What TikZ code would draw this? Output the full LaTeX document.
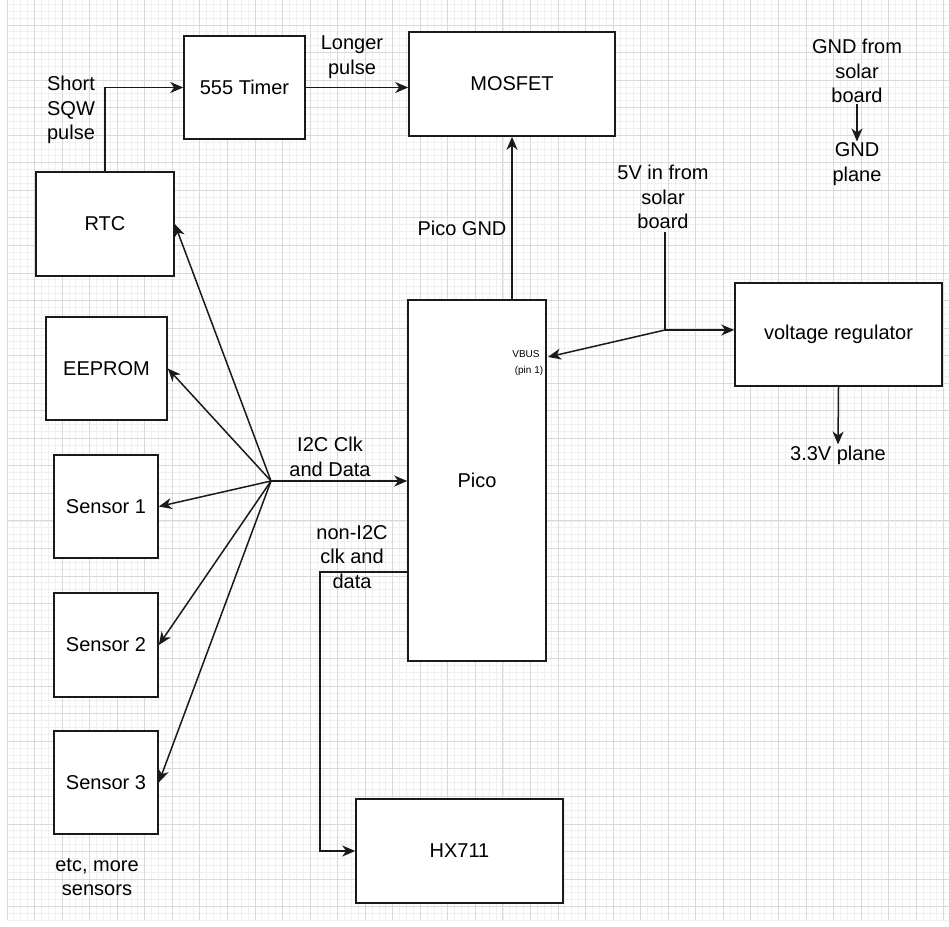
\documentclass[tikz,border=0pt]{standalone}
\usepackage{fontspec}
\setmainfont{Liberation Sans}
\usetikzlibrary{arrows.meta,calc}
\definecolor{ln}{HTML}{1A1A1A}
\begin{document}
\begin{tikzpicture}[x=1pt,y=-1pt,
 box/.style={draw=ln,line width=1.6pt,fill=white,inner sep=0pt,font=\fontsize{20}{24}\selectfont},
 lbl/.style={inner sep=1pt,align=center,font=\fontsize{20}{24.5}\selectfont},
 small/.style={inner sep=0pt,font=\fontsize{10}{12}\selectfont},
 arr/.style={draw=ln,line width=1.5pt,-{Stealth[length=13pt,width=11pt,inset=4pt]}},
 wire/.style={draw=ln,line width=1.5pt},
 minorg/.style={draw=gray!12,line width=0.8pt},
 majorg/.style={draw=gray!30,line width=0.9pt}]
\fill[white] (0,0) rectangle (949,926);
\useasboundingbox (0,0) rectangle (949,926);
\begin{scope}
\clip (7,0) rectangle (949,920);
\foreach \i in {0,...,137}{\draw[minorg] ({7+6.8875*\i},0) -- ({7+6.8875*\i},920);}
\foreach \j in {-4,...,130}{\draw[minorg] (7,{25+6.8875*\j}) -- (949,{25+6.8875*\j});}
\foreach \i in {0,...,35}{\draw[majorg] ({7+27.55*\i},0) -- ({7+27.55*\i},920);}
\foreach \j in {-1,...,33}{\draw[majorg] (7,{25+27.55*\j}) -- (949,{25+27.55*\j});}
\end{scope}

% boxes
\node[box,minimum width=121pt,minimum height=103pt] (timer) at (244.5,87.5) {555 Timer};
\node[box,minimum width=138pt,minimum height=104pt] (rtc) at (105,224) {RTC};
\node[box,minimum width=206pt,minimum height=104pt] (mosfet) at (512,84) {MOSFET};
\node[box,minimum width=138pt,minimum height=361pt] (pico) at (477,480.5) {Pico};
\node[box,minimum width=121pt,minimum height=103pt] (eeprom) at (106.5,368.5) {EEPROM};
\node[box,minimum width=104pt,minimum height=103pt] (s1) at (106,506.5) {Sensor 1};
\node[box,minimum width=104pt,minimum height=104pt] (s2) at (106,645) {Sensor 2};
\node[box,minimum width=104pt,minimum height=103pt] (s3) at (106,782.5) {Sensor 3};
\node[box,minimum width=207pt,minimum height=104pt] (hx) at (459.5,851) {HX711};
\node[box,minimum width=207pt,minimum height=103pt] (vreg) at (838.5,334.5) {voltage regulator};

% labels
\node[lbl] (sqw) at (71,110) {Short\\SQW\\pulse};
\node[lbl] (longer) at (352,57) {Longer\\pulse};
\node[lbl] (picognd) at (462,228) {Pico GND};
\node[lbl] (i2c) at (330,457) {I2C Clk\\and Data};
\node[lbl] (noni2c) at (352,557) {non-I2C\\clk and\\data};
\node[lbl] (etc) at (97,877) {etc, more\\sensors};
\node[lbl] (fivev) at (663,197) {5V in from\\solar\\board};
\node[lbl] (gndsrc) at (857,71) {GND from\\solar\\board};
\node[lbl] (gndplane) at (857,164) {GND\\plane};
\node[lbl] (v33) at (838,455) {3.3V plane};
\node[small] (vbuslbl) at (526,354) {VBUS};
\node[small] (pinlbl) at (529,371) {(pin 1)};

% coordinates
\coordinate (hub) at (271,481);
\coordinate (junc) at (665,330);
\coordinate (vbus) at (548,357);
\coordinate (nI) at (408,572);
\coordinate (nIbend) at (320,572);
\coordinate (fivetop) at (665,232);

% connectors
\draw[arr] (rtc.north) |- (timer.west);
\draw[arr] (timer.east) -- (timer.east -| mosfet.west);
\draw[arr] (pico.north -| mosfet.south) -- (mosfet.south);
\draw[arr] (hub) -- (rtc.east);
\draw[arr] (hub) -- (eeprom.east);
\draw[arr] (hub) -- (s1.east);
\draw[arr] (hub) -- (s2.east);
\draw[arr] (hub) -- (s3.east);
\draw[arr] (hub) -- (hub -| pico.west);
\draw[arr] (nI) -- (nIbend) |- (hx.west);
\draw[wire] (fivetop) -- (junc);
\draw[arr] (junc) -- (junc -| vreg.west);
\draw[arr] (junc) -- (vbus);
\draw[arr] (vreg.south) -- (v33.north);
\draw[arr] (gndsrc.south) -- (gndplane.north);
\end{tikzpicture}
\end{document}
